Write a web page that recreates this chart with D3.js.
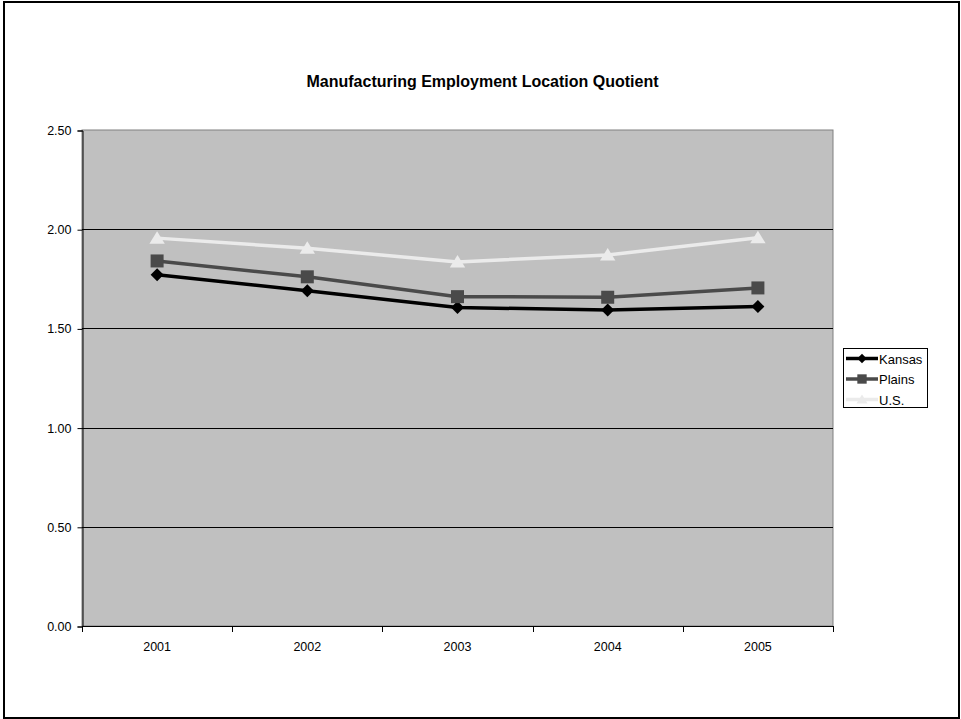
<!DOCTYPE html>
<html><head><meta charset="utf-8">
<script src="https://cdn.jsdelivr.net/npm/d3@7"></script>
<style>body{margin:0;background:#fff}svg{display:block}text{font-family:"Liberation Sans",Arial,sans-serif}</style>
</head><body>
<script>
const years = ["2001","2002","2003","2004","2005"];
const kansas = [1.77, 1.69, 1.605, 1.593, 1.61];
const plains = [1.84, 1.76, 1.66, 1.657, 1.704];
const us = [1.955, 1.904, 1.835, 1.87, 1.957];
const yTicks = [0, 0.5, 1.0, 1.5, 2.0, 2.5];
const seriesNames = ["Kansas","Plains","U.S."];
const title = "Manufacturing Employment Location Quotient";

const W = 961, H = 719;
const svg = d3.select("body").append("svg").attr("width", W).attr("height", H);
svg.append("rect").attr("x",4).attr("y",2).attr("width",955).attr("height",716)
  .attr("fill","#fff").attr("stroke","#000").attr("stroke-width",2);

const L = 82, R = 833, T = 130, B = 626;
const x = d3.scaleBand().domain(years).range([L, R]);
const y = d3.scaleLinear().domain([0, 2.5]).range([B, T]);

svg.append("rect").attr("x",L).attr("y",T).attr("width",R-L).attr("height",B-T)
  .attr("fill","#c0c0c0").attr("stroke","#808080").attr("stroke-width",1);

// gridlines
svg.append("g").selectAll("line").data(yTicks.filter(d=>d>0 && d<2.5)).join("line")
  .attr("x1",L).attr("x2",R).attr("y1",d=>Math.round(y(d))+0.5).attr("y2",d=>Math.round(y(d))+0.5)
  .attr("stroke","#000").attr("stroke-width",1);

// y axis
const yAxis = d3.axisLeft(y).tickValues(yTicks).tickFormat(d3.format(".2f")).tickSize(5).tickPadding(6);
const gy = svg.append("g").attr("transform",`translate(${L+0.5},0.5)`).call(yAxis);
gy.select(".domain").attr("stroke","#000");
gy.selectAll("text").attr("font-size","12.5px").attr("fill","#000")
  .attr("font-family",'"Liberation Sans",Arial,sans-serif');

// x axis
const boundaries = years.map(d=>x(d)).concat([R]);
const gx = svg.append("g");
gx.append("line").attr("x1",L).attr("x2",R).attr("y1",B+0.5).attr("y2",B+0.5).attr("stroke","#000");
gx.selectAll("line.t").data(boundaries).join("line").attr("class","t")
  .attr("x1",d=>Math.round(d)+0.5).attr("x2",d=>Math.round(d)+0.5).attr("y1",B).attr("y2",B+6).attr("stroke","#000");
gx.selectAll("text").data(years).join("text")
  .attr("x",d=>x(d)+x.bandwidth()/2).attr("y",B+25).attr("text-anchor","middle")
  .attr("font-size","12.5px").text(d=>d);

// symbols
const diamond = r => `M0,${-r}L${r},0L0,${r}L${-r},0Z`;
const square = r => `M${-r},${-r}H${r}V${r}H${-r}Z`;
const triangle = r => `M0,${-r}L${r*1.1},${r*0.8}H${-r*1.1}Z`;

const cx = d => x(d) + x.bandwidth()/2;
const series = [
  {name:"Kansas", values:kansas, color:"#000000", sym:diamond, r:6.5},
  {name:"Plains", values:plains, color:"#4a4a4a", sym:square, r:6.5},
  {name:"U.S.", values:us, color:"#ebebeb", sym:triangle, r:7}
];
const line = d3.line().x((d,i)=>cx(years[i])).y(d=>y(d));
series.forEach(s=>{
  svg.append("path").attr("d",line(s.values)).attr("fill","none")
    .attr("stroke",s.color).attr("stroke-width",3.5).attr("stroke-linejoin","round");
  svg.append("g").selectAll("path").data(s.values).join("path")
    .attr("transform",(d,i)=>`translate(${cx(years[i])},${y(d)})`)
    .attr("d",s.sym(s.r)).attr("fill",s.color);
});

// title
svg.append("text").attr("x",482.5).attr("y",87).attr("text-anchor","middle")
  .attr("font-size","16px").attr("font-weight","bold").text(title);

// legend
const lg = svg.append("g");
lg.append("rect").attr("x",843.5).attr("y",348.5).attr("width",84).attr("height",59)
  .attr("fill","#fff").attr("stroke","#000").attr("stroke-width",1);
series.forEach((s,i)=>{
  const yy = 358.5 + i*20.5;
  lg.append("line").attr("x1",846).attr("x2",878).attr("y1",yy).attr("y2",yy)
    .attr("stroke",s.color).attr("stroke-width",3.5);
  lg.append("path").attr("transform",`translate(862,${yy})`)
    .attr("d",s.sym(s.r*0.72)).attr("fill",s.color);
  lg.append("text").attr("x",879).attr("y",yy+5).attr("font-size","13px").text(seriesNames[i]);
});
</script>
</body></html>
